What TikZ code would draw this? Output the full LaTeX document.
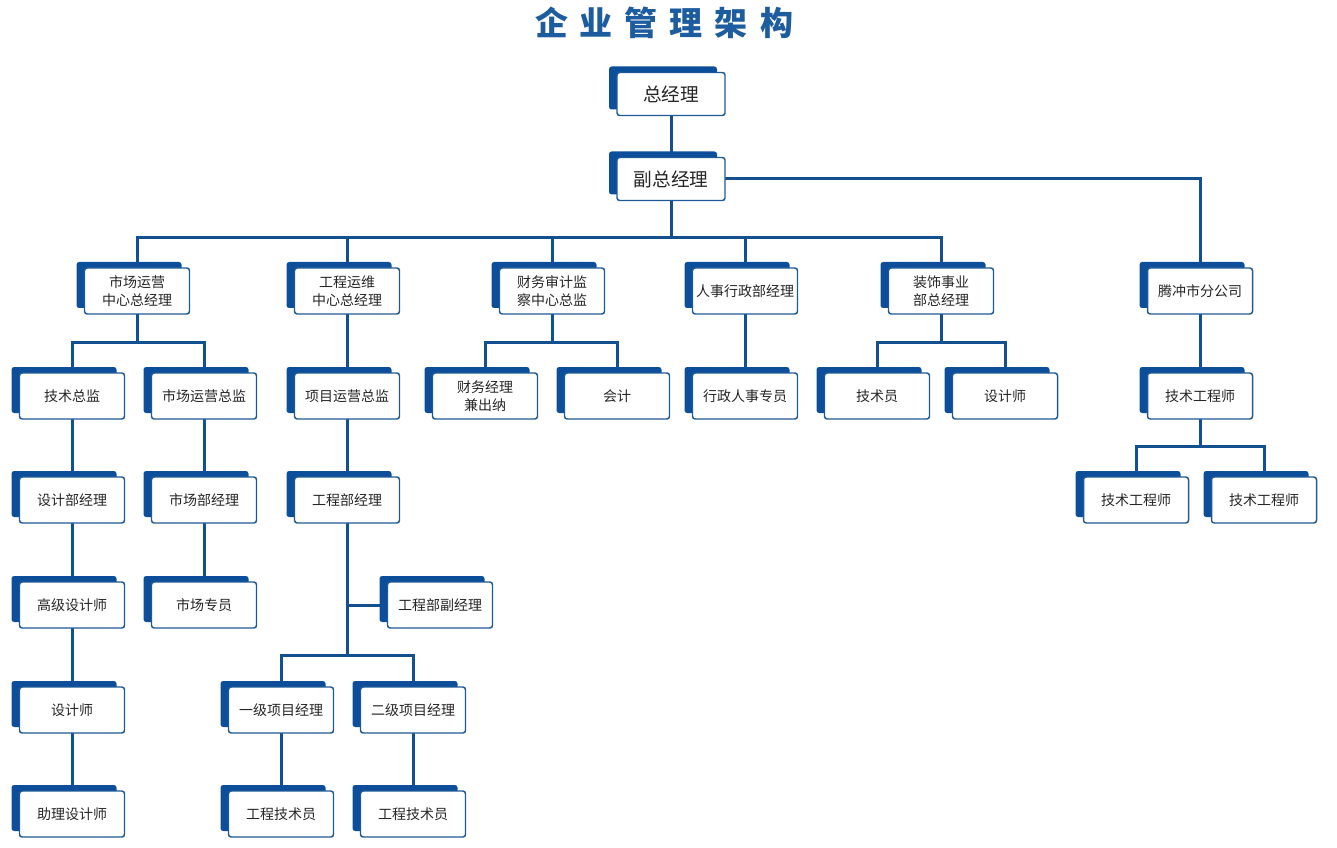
\documentclass[tikz,border=0pt]{standalone}
\usepackage{fontspec}
\setmainfont{Noto Sans CJK SC}
\usetikzlibrary{shadows,backgrounds}
\definecolor{lineblue}{HTML}{13508F}
\definecolor{shadeblue}{HTML}{0C4E9A}
\definecolor{edgeblue}{HTML}{1F5A96}
\definecolor{titleblue}{HTML}{1D5C9E}
\begin{document}
\begin{tikzpicture}[x=0.75pt,y=-0.75pt,
  box/.style={draw=edgeblue, line width=1.1pt, fill=white, rounded corners=2pt,
    minimum width=78.75pt, minimum height=34.5pt, inner sep=1pt, align=center,
    font=\fontsize{10.5}{13.5}\selectfont, text=black!85,
    general shadow={fill=shadeblue, shadow xshift=-6pt, shadow yshift=4.5pt}},
  bigbox/.style={box, minimum width=81pt, minimum height=32.25pt, font=\fontsize{14}{16}\selectfont},
  conn/.style={draw=lineblue, line width=2.25pt}]
\useasboundingbox (0,0) rectangle (1337,848);

\node[font=\fontsize{24.75}{26}\selectfont\bfseries, text=titleblue] (title) at (664,23)
  {企\kern9pt业\kern9pt管\kern9pt理\kern9pt架\kern9pt构};

\node[bigbox] (gm) at (671,94) {总经理};
\node[bigbox] (vgm) at (671,179) {副总经理};

\node[box] (m1) at (137,291) {市场运营\\中心总经理};
\node[box] (m2) at (347,291) {工程运维\\中心总经理};
\node[box] (m3) at (552,291) {财务审计监\\察中心总监};
\node[box] (m4) at (745,291) {人事行政部经理};
\node[box] (m5) at (941,291) {装饰事业\\部总经理};
\node[box] (m6) at (1200,291) {腾冲市分公司};

\node[box] (a1) at (72,396) {技术总监};
\node[box] (b1) at (204,396) {市场运营总监};
\node[box] (p1) at (347,396) {项目运营总监};
\node[box] (f1) at (485,396) {财务经理\\兼出纳};
\node[box] (f2) at (617,396) {会计};
\node[box] (h1) at (745,396) {行政人事专员};
\node[box] (d1) at (877,396) {技术员};
\node[box] (d2) at (1005,396) {设计师};
\node[box] (t1) at (1200,396) {技术工程师};

\node[box] (a2) at (72,500) {设计部经理};
\node[box] (b2) at (204,500) {市场部经理};
\node[box] (p2) at (347,500) {工程部经理};
\node[box] (t2) at (1136,500) {技术工程师};
\node[box] (t3) at (1264,500) {技术工程师};

\node[box] (a3) at (72,605) {高级设计师};
\node[box] (b3) at (204,605) {市场专员};
\node[box] (p3) at (440,605) {工程部副经理};

\node[box] (a4) at (72,710) {设计师};
\node[box] (q1) at (281,710) {一级项目经理};
\node[box] (q2) at (413,710) {二级项目经理};

\node[box] (a5) at (72,814) {助理设计师};
\node[box] (q3) at (281,814) {工程技术员};
\node[box] (q4) at (413,814) {工程技术员};

\coordinate (r1) at (0,238);
\coordinate (r2) at (0,342);
\coordinate (r3) at (0,446);
\coordinate (r4) at (0,655);

\begin{scope}[on background layer]
\draw[conn] (gm.center) -- (vgm.center);
\draw[conn] (vgm.center) -- (vgm.center |- r1);
\draw[conn] (vgm.center) -| (m6.center);
\draw[conn] (m1.center) -- (m1.center |- r1) -- (m5.center |- r1) -- (m5.center);
\draw[conn] (m2.center) -- (m2.center |- r1);
\draw[conn] (m3.center) -- (m3.center |- r1);
\draw[conn] (m4.center) -- (m4.center |- r1);

\draw[conn] (m1.center) -- (m1.center |- r2);
\draw[conn] (a1.center) -- (a1.center |- r2) -- (b1.center |- r2) -- (b1.center);
\draw[conn] (m2.center) -- (p1.center);
\draw[conn] (m3.center) -- (m3.center |- r2);
\draw[conn] (f1.center) -- (f1.center |- r2) -- (f2.center |- r2) -- (f2.center);
\draw[conn] (m4.center) -- (h1.center);
\draw[conn] (m5.center) -- (m5.center |- r2);
\draw[conn] (d1.center) -- (d1.center |- r2) -- (d2.center |- r2) -- (d2.center);
\draw[conn] (m6.center) -- (t1.center);

\draw[conn] (t1.center) -- (t1.center |- r3);
\draw[conn] (t2.center) -- (t2.center |- r3) -- (t3.center |- r3) -- (t3.center);

\draw[conn] (a1.center) -- (a5.center);
\draw[conn] (b1.center) -- (b3.center);
\draw[conn] (p1.center) -- (p2.center);
\draw[conn] (p2.center) -- (p2.center |- r4);
\draw[conn] (p2.center |- p3.center) -- (p3.center);
\draw[conn] (q1.center) -- (q1.center |- r4) -- (q2.center |- r4) -- (q2.center);
\draw[conn] (q1.center) -- (q3.center);
\draw[conn] (q2.center) -- (q4.center);
\end{scope}
\end{tikzpicture}
\end{document}
